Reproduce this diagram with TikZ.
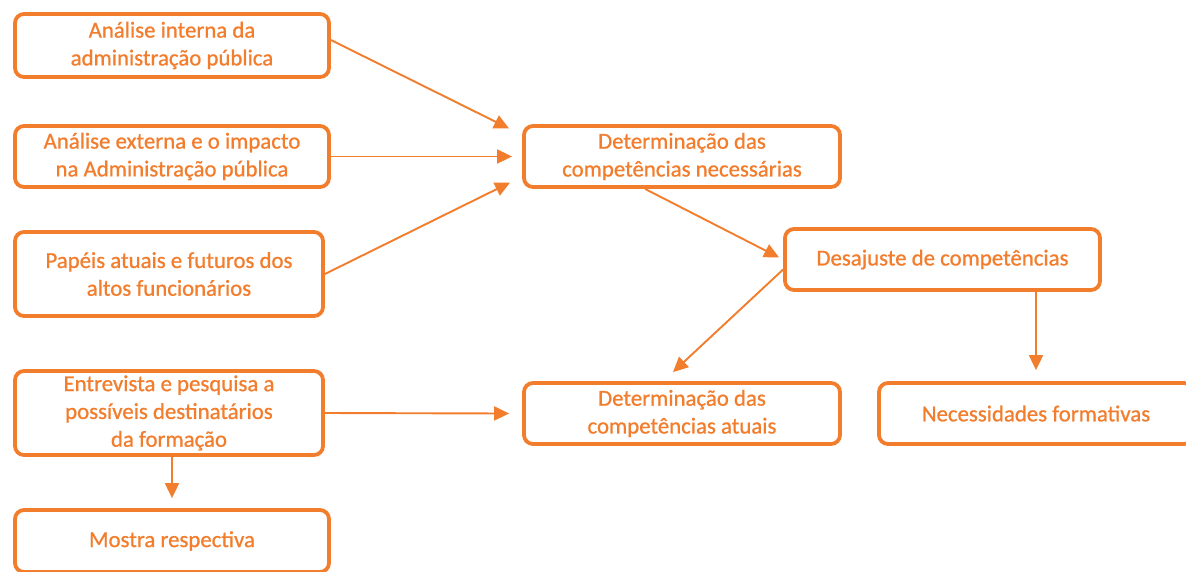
\documentclass[tikz,border=0pt]{standalone}
\usepackage{fontspec}
\setmainfont{Carlito}[FakeBold=0.8]
\usetikzlibrary{arrows.meta,calc}
\definecolor{accent}{RGB}{242,125,45}
\begin{document}
\begin{tikzpicture}[x=1pt,y=-1pt,
  box/.style={draw=accent,line width=3.8pt,rounded corners=9pt,fill=white,
    text=accent,align=center,font=\fontsize{22.8}{27.8}\selectfont,inner sep=0pt},
  link/.style={draw=accent,line width=1.9pt,-{Triangle[length=15pt,width=14pt]}}]
  \useasboundingbox[fill=white] (0,0) rectangle (1186,571);

  % left column
  \node[box,minimum width=314,minimum height=63] (b1) at (172,45.5)
    {Análise interna da\\administração pública};
  \node[box,minimum width=314,minimum height=61] (b2) at (172,156.5)
    {Análise externa e o impacto\\na Administração pública};
  \node[box,minimum width=308,minimum height=84] (b3) at (169,274)
    {Papéis atuais e futuros dos\\altos funcionários};
  \node[box,minimum width=308,minimum height=84] (b4) at (169,413)
    {Entrevista e pesquisa a\\possíveis destinatários\\da formação};
  \node[box,minimum width=314,minimum height=62] (b5) at (172,541)
    {Mostra respectiva};

  % right part
  \node[box,minimum width=316,minimum height=61] (b6) at (682,156.5)
    {Determinação das\\competências necessárias};
  \node[box,minimum width=315,minimum height=61] (b7) at (942.5,259.5)
    {Desajuste de competências};
  \node[box,minimum width=316,minimum height=61] (b8) at (682,413.5)
    {Determinação das\\competências atuais};
  \node[box,minimum width=314,minimum height=61] (b9) at (1036,413.5)
    {Necessidades formativas};

  % connector end points
  \coordinate (s1) at ($(b1.east)+(0,-5.5)$);
  \coordinate (t1) at ($(b6.west)+(-13,-28)$);
  \coordinate (t2) at ($(b6.west)+(-10,0)$);
  \coordinate (t3) at ($(b6.west)+(-12,26)$);
  \coordinate (s4) at ($(b6.south)+(-37,0)$);
  \coordinate (t4) at ($(b7.west)+(-4,-2)$);
  \coordinate (s5) at ($(b7.west)+(0,10)$);
  \coordinate (t5) at ($(b8.north)+(-9,-9)$);
  \coordinate (t6) at ($(b9.north)+(0,-11)$);
  \coordinate (t7) at ($(b8.west)+(-13,0)$);
  \coordinate (t8) at ($(b5.north)+(0,-10)$);

  \draw[link] (s1) -- (t1);
  \draw[link] (b2.east) -- (t2);
  \draw[link] (b3.east) -- (t3);
  \draw[link] (s4) -- (t4);
  \draw[link] (s5) -- (t5);
  \draw[link] (b7.south -| b9.north) -- (t6);
  \draw[link] (b4.east) -- (t7);
  \draw[link] (b4.south -| b5.north) -- (t8);
\end{tikzpicture}
\end{document}
